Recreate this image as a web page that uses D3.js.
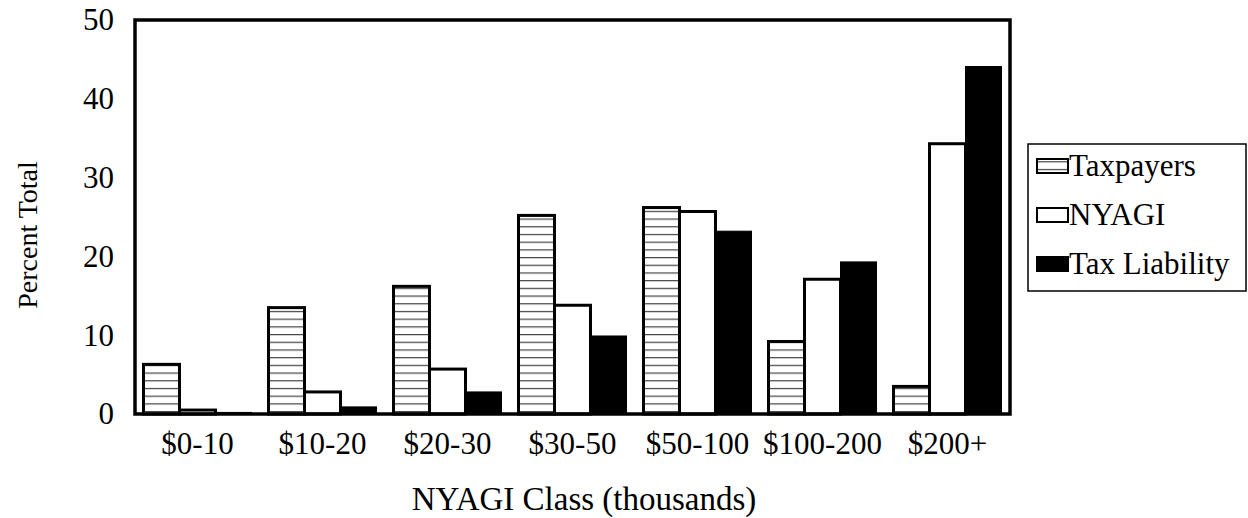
<!DOCTYPE html>
<html>
<head>
<meta charset="utf-8">
<script src="https://cdn.jsdelivr.net/npm/d3@7"></script>
<style>
  body { margin: 0; background: #fff; }
  text { font-family: "Liberation Serif", "Times New Roman", serif; fill: #000; }
</style>
</head>
<body>
<script>
"use strict";
(function(){
    // data
    const classes = ["$0-10", "$10-20", "$20-30", "$30-50", "$50-100", "$100-200", "$200+"]
    const seriesNames = ["Taxpayers", "NYAGI", "Tax Liability"]
    const taxpayers = [6.3, 13.5, 16.2, 25.2, 26.2, 9.2, 3.5]
    const nyagi = [0.5, 2.8, 5.7, 13.8, 25.7, 17.1, 34.3]
    const taxLiability = [0.2, 0.9, 2.8, 9.9, 23.2, 19.3, 44.1]
    const yTicks = [0, 10, 20, 30, 40, 50]

    const measurements = {
        width: 1248,
        height: 518,
        left: 135,
        right: 1010,
        top: 20,
        bottom: 414
    }

    const svg = d3.select("body").append("svg")
        .attr("width", measurements.width)
        .attr("height", measurements.height)

    // horizontal hatch for the taxpayers bars
    const defs = svg.append("defs")
    const hatch = defs.append("pattern")
        .attr("id", "hatch")
        .attr("patternUnits", "userSpaceOnUse")
        .attr("width", 8)
        .attr("height", 7.7)
    hatch.append("rect").attr("width", 8).attr("height", 7.7).attr("fill", "#fff")
    hatch.append("line")
        .attr("x1", 0).attr("x2", 8).attr("y1", 3.5).attr("y2", 3.5)
        .attr("stroke", "#444").attr("stroke-width", 1.2)

    const fills = ["url(#hatch)", "#fff", "#000"]

    const x0 = d3.scaleBand()
        .domain(classes)
        .range([measurements.left, measurements.right])
        .paddingInner(0.136)
        .paddingOuter(0.068)

    const x1 = d3.scaleBand()
        .domain(seriesNames)
        .range([0, x0.bandwidth()])

    const y = d3.scaleLinear()
        .domain([0, 50])
        .range([measurements.bottom, measurements.top])

    const rows = classes.map((c, i) => ({
        cls: c,
        values: [taxpayers[i], nyagi[i], taxLiability[i]]
    }))

    // bars
    const groups = svg.selectAll(".group")
        .data(rows)
        .enter()
        .append("g")
            .attr("class", "group")
            .attr("transform", d => `translate(${x0(d.cls)},0)`)

    groups.selectAll("rect")
        .data(d => d.values.map((v, j) => ({ name: seriesNames[j], value: v, j: j })))
        .enter()
        .append("rect")
            .attr("x", d => x1(d.name))
            .attr("y", d => y(d.value))
            .attr("width", x1.bandwidth())
            .attr("height", d => y(0) - y(d.value))
            .attr("fill", d => fills[d.j])
            .attr("stroke", "#000")
            .attr("stroke-width", d => d.j === 2 ? 1 : 3)

    // plot frame
    svg.append("rect")
        .attr("x", measurements.left)
        .attr("y", measurements.top)
        .attr("width", measurements.right - measurements.left)
        .attr("height", measurements.bottom - measurements.top)
        .attr("fill", "none")
        .attr("stroke", "#000")
        .attr("stroke-width", 3.5)

    // axes (labels only)
    const yAxis = d3.axisLeft(y).tickValues(yTicks).tickSize(0).tickPadding(21)
    const gy = svg.append("g")
        .attr("transform", `translate(${measurements.left},0)`)
        .call(yAxis)
    gy.select(".domain").remove()
    gy.selectAll("text").style("font-size", "31px").attr("font-family", null)

    const xAxis = d3.axisBottom(x0).tickSize(0).tickPadding(18)
    const gx = svg.append("g")
        .attr("transform", `translate(0,${measurements.bottom})`)
        .call(xAxis)
    gx.select(".domain").remove()
    gx.selectAll("text").style("font-size", "31px").attr("font-family", null)

    // axis titles
    svg.append("text")
        .attr("x", 584)
        .attr("y", 510)
        .attr("text-anchor", "middle")
        .style("font-size", "33px")
        .text("NYAGI Class (thousands)")

    svg.append("text")
        .attr("transform", "translate(37,235) rotate(-90)")
        .attr("text-anchor", "middle")
        .style("font-size", "28px")
        .text("Percent Total")

    // legend
    const legend = svg.append("g")
    legend.append("rect")
        .attr("x", 1028).attr("y", 144)
        .attr("width", 218).attr("height", 147)
        .attr("fill", "#fff")
        .attr("stroke", "#000")
        .attr("stroke-width", 1.5)

    const items = legend.selectAll(".item")
        .data(seriesNames)
        .enter()
        .append("g")
            .attr("class", "item")
            .attr("transform", (d, i) => `translate(1037,${166 + i * 49})`)
    items.append("rect")
        .attr("x", 0).attr("y", -7)
        .attr("width", 31).attr("height", 14)
        .attr("fill", (d, i) => fills[i])
        .attr("stroke", "#000")
        .attr("stroke-width", 2)
    items.append("text")
        .attr("x", 32)
        .attr("y", 10)
        .style("font-size", "31px")
        .text(d => d)
})()
</script>
</body>
</html>
